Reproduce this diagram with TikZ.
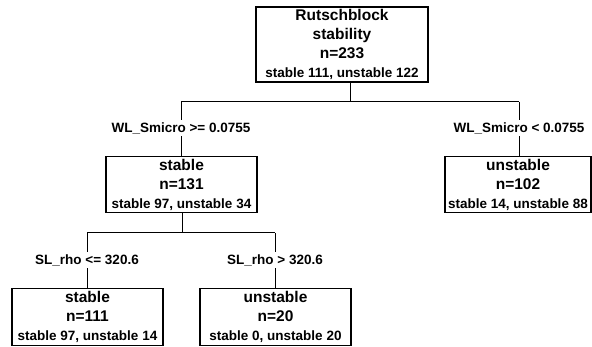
\documentclass[tikz,border=0pt]{standalone}
\usepackage{fontspec}
\setmainfont{Liberation Sans}
\usepackage{tikz}

\newcommand{\bigtxt}{\fontsize{15.5}{19}\selectfont\bfseries}
\newcommand{\smalltxt}{\fontsize{13.5}{18}\selectfont\bfseries}

\begin{document}
\begin{tikzpicture}[x=1pt,y=-1pt,
  tnode/.style={shape=rectangle,draw=black,line width=1.2pt,align=center,
    minimum width=151pt,minimum height=56pt,inner sep=1pt,font=\bigtxt},
  rule/.style={font=\smalltxt,inner sep=0pt,minimum height=16pt},
  conn/.style={line width=1pt}]
\useasboundingbox (0,0) rectangle (592,347);

% tree nodes
\node[tnode,minimum width=172pt,minimum height=75pt](root) at (342,44.5)
  {Rutschblock\\stability\\n=233\\\smalltxt stable 111, unstable 122};
\node[tnode](stab) at (181.5,184.5) {stable\\n=131\\\smalltxt stable 97, unstable 34};
\node[tnode,minimum width=146pt](unst) at (518,184.5) {unstable\\n=102\\\smalltxt stable 14, unstable 88};
\node[tnode,minimum height=57pt](leafA) at (87.5,317) {stable\\n=111\\\smalltxt stable 97, unstable 14};
\node[tnode,minimum height=57pt](leafB) at (275.5,317) {unstable\\n=20\\\smalltxt stable 0, unstable 20};

% split rules
\node[rule](wlA) at (181,128) {WL\_Smicro >= 0.0755};
\node[rule](wlB) at (519,128) {WL\_Smicro < 0.0755};
\node[rule](slA) at (87,260) {SL\_rho <= 320.6};
\node[rule](slB) at (275,260) {SL\_rho > 320.6};

\coordinate (s0) at (350,102);
\coordinate (s1) at (182,233);

% first split
\draw[conn] (root.south -| s0) -- (s0);
\draw[conn] (wlA.north |- s0) -- (wlB.north |- s0);
\draw[conn] (wlA.north |- s0) -- (wlA.north);
\draw[conn] (wlB.north |- s0) -- (wlB.north);
\draw[conn] (wlA.south) -- (wlA.south |- stab.north);
\draw[conn] (wlB.south) -- (wlB.south |- unst.north);

% second split
\draw[conn] (stab.south -| s1) -- (s1);
\draw[conn] (slA.north |- s1) -- (slB.north |- s1);
\draw[conn] (slA.north |- s1) -- (slA.north);
\draw[conn] (slB.north |- s1) -- (slB.north);
\draw[conn] (slA.south) -- (slA.south |- leafA.north);
\draw[conn] (slB.south) -- (slB.south |- leafB.north);
\end{tikzpicture}
\end{document}
